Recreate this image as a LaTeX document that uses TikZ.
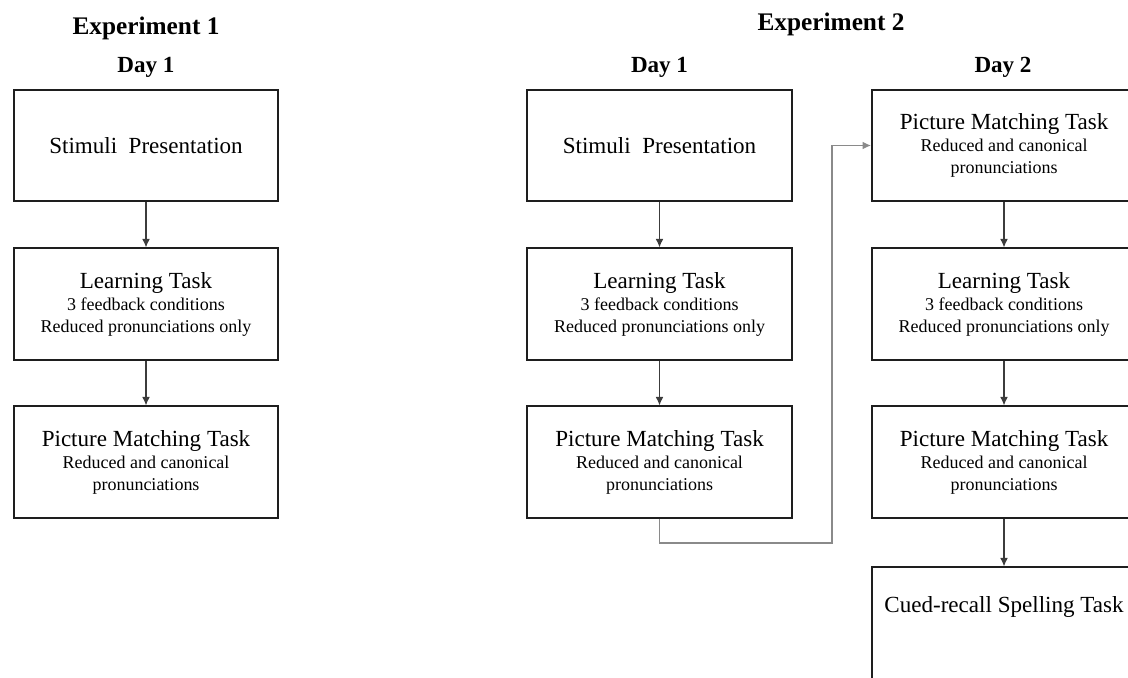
\documentclass[tikz,border=0pt]{standalone}
\usepackage{fontspec}
\setmainfont{Liberation Serif}
\usepackage{tikz}
\usetikzlibrary{arrows.meta}
\tikzset{>={Latex[length=6pt,width=5.5pt]}}
\usepackage{xcolor}
\definecolor{k1}{HTML}{1E1E1E}
\definecolor{l1}{HTML}{3C3C3C}
\definecolor{l2}{HTML}{8A8A8A}
\newcommand\Task[1]{{\fontsize{16.4}{15.6}\selectfont #1}}
\tikzstyle{task box}=[draw=k1,line width=1.4pt,minimum width=6.6cm,minimum height=2.78cm,
  align=center,inner sep=0pt,font=\fontsize{12.8}{15.6}\selectfont]
\tikzstyle{head}=[anchor=base,font=\bfseries\fontsize{18}{20}\selectfont]
\tikzstyle{day}=[anchor=base,font=\bfseries\fontsize{16.4}{18}\selectfont]
\tikzstyle{flow}=[->,l1,line width=0.8pt]

\begin{document}
\begin{tikzpicture}[x=0.025cm,y=-0.025cm]
  \useasboundingbox (0,0) rectangle (1128,677);
  \clip (0,0) rectangle (1128,677);
  % Experiment 1
  \node[head] (exA) at (146,34) {Experiment 1};
  \node[day] (dayA) at (146,72) {Day 1};
  \node[task box] (spA) at (146,145.5) {\Task{Stimuli\ \ Presentation}};
  \node[task box] (ltA) at (146,304) {\Task{Learning Task}\\3 feedback conditions\\Reduced pronunciations only};
  \node[task box] (pmA) at (146,462) {\Task{Picture Matching Task}\\Reduced and canonical\\pronunciations};
  \draw[flow] (spA) -- (ltA);
  \draw[flow] (ltA) -- (pmA);
  % Experiment 2, day 1
  \node[head] (exB) at (831,30) {Experiment 2};
  \node[day] (dayB) at (659.5,72) {Day 1};
  \node[task box] (spB) at (659.5,145.5) {\Task{Stimuli\ \ Presentation}};
  \node[task box] (ltB) at (659.5,304) {\Task{Learning Task}\\3 feedback conditions\\Reduced pronunciations only};
  \node[task box] (pmB) at (659.5,462) {\Task{Picture Matching Task}\\Reduced and canonical\\pronunciations};
  \draw[flow] (spB) -- (ltB);
  \draw[flow] (ltB) -- (pmB);
  % Experiment 2, day 2
  \node[day] (dayC) at (1003,72) {Day 2};
  \node[task box] (pmC) at (1004,145.5) {\Task{Picture Matching Task}\\Reduced and canonical\\pronunciations};
  \node[task box] (ltC) at (1004,304) {\Task{Learning Task}\\3 feedback conditions\\Reduced pronunciations only};
  \node[task box] (pmD) at (1004,462) {\Task{Picture Matching Task}\\Reduced and canonical\\pronunciations};
  \node[task box,text depth=26.6pt] (crC) at (1004,623) {\Task{Cued-recall Spelling Task}};
  \draw[flow] (pmC) -- (ltC);
  \draw[flow] (ltC) -- (pmD);
  \draw[flow] (pmD) -- (crC);
  % day 1 to day 2
  \coordinate (bend) at (832,543);
  \draw[flow,l2] (pmB.south) |- (bend) |- (pmC.west);
\end{tikzpicture}
\end{document}
